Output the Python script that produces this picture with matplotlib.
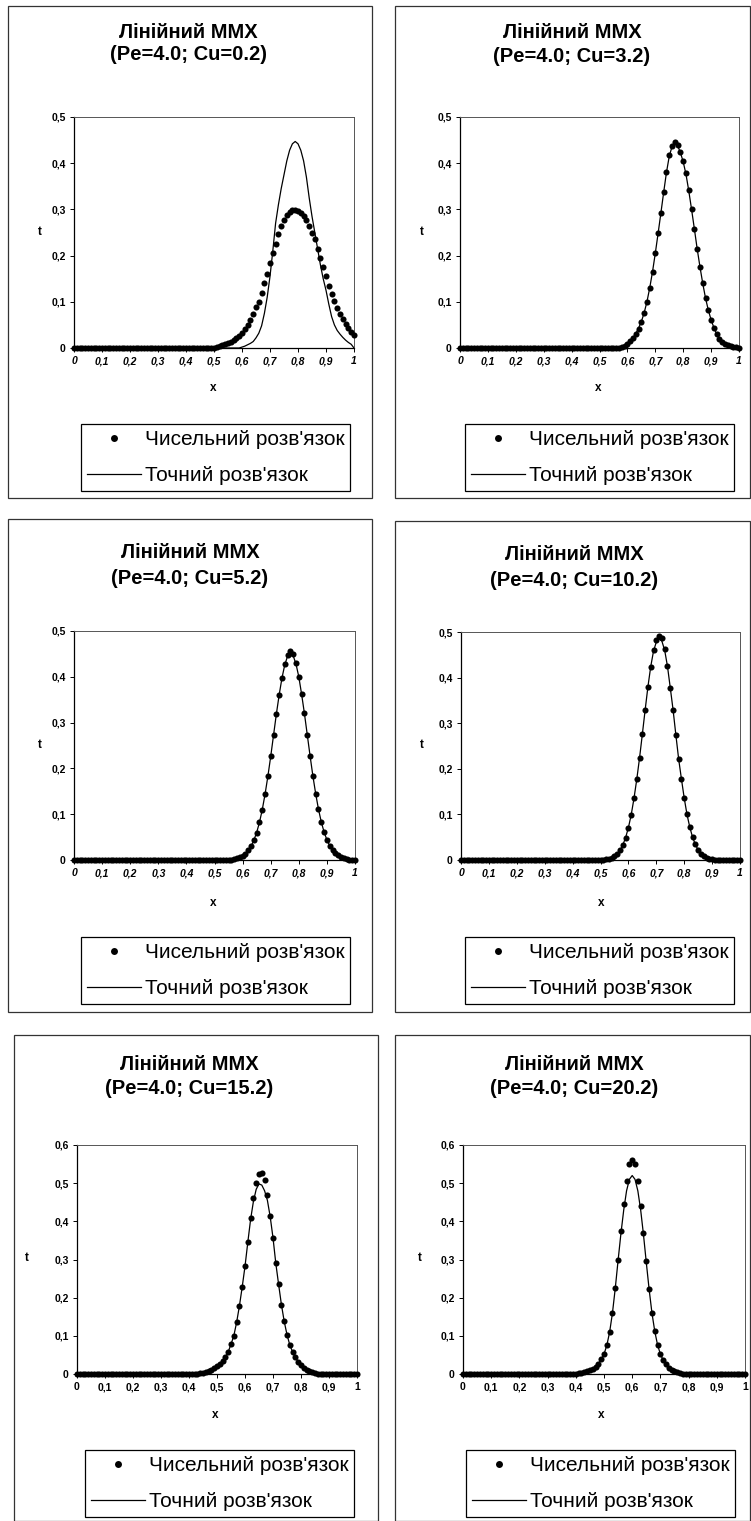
import numpy as np
import matplotlib
matplotlib.use("Agg")
import matplotlib.pyplot as plt
from matplotlib.patches import Rectangle
from matplotlib.lines import Line2D

plt.rcParams['font.family'] = ['Liberation Sans', 'DejaVu Sans']

# ---------------- data ----------------
N = 101
x_grid = np.round(np.linspace(0.0, 1.0, N), 2)

def padded(start, vals):
    arr = np.zeros(N)
    arr[start:start + len(vals)] = vals
    return arr

titles = ["Лінійний ММХ\n(Pe=4.0; Cu=0.2)", "Лінійний ММХ\n(Pe=4.0; Cu=3.2)",
          "Лінійний ММХ\n(Pe=4.0; Cu=5.2)", "Лінійний ММХ\n(Pe=4.0; Cu=10.2)",
          "Лінійний ММХ\n(Pe=4.0; Cu=15.2)", "Лінійний ММХ\n(Pe=4.0; Cu=20.2)"]
legend_labels = ["Чисельний розв'язок", "Точний розв'язок"]
x_ticks = [0, 0.1, 0.2, 0.3, 0.4, 0.5, 0.6, 0.7, 0.8, 0.9, 1]
x_tick_labels = ["0", "0,1", "0,2", "0,3", "0,4", "0,5", "0,6", "0,7", "0,8", "0,9", "1"]
y_ticks_05 = [0, 0.1, 0.2, 0.3, 0.4, 0.5]
y_tick_labels_05 = ["0", "0,1", "0,2", "0,3", "0,4", "0,5"]
y_ticks_06 = [0, 0.1, 0.2, 0.3, 0.4, 0.5, 0.6]
y_tick_labels_06 = ["0", "0,1", "0,2", "0,3", "0,4", "0,5", "0,6"]

# Cu = 0.2
num_cu02 = padded(50, [0.000, 0.002, 0.004, 0.006, 0.008, 0.011, 0.014, 0.017, 0.021, 0.027,
                       0.033, 0.041, 0.050, 0.060, 0.074, 0.088, 0.100, 0.118, 0.140, 0.160,
                       0.184, 0.205, 0.225, 0.247, 0.265, 0.278, 0.288, 0.294, 0.298, 0.299,
                       0.297, 0.293, 0.286, 0.276, 0.263, 0.250, 0.235, 0.215, 0.195, 0.175,
                       0.155, 0.135, 0.117, 0.101, 0.087, 0.074, 0.062, 0.052, 0.043, 0.035,
                       0.028])
ex_cu02 = padded(59, [0.000,
                      0.002, 0.004, 0.007, 0.010, 0.014, 0.022, 0.032, 0.048, 0.075, 0.110,
                      0.155, 0.210, 0.270, 0.310, 0.345, 0.375, 0.405, 0.428, 0.442, 0.447,
                      0.442, 0.428, 0.405, 0.370, 0.325, 0.285, 0.250, 0.215, 0.180, 0.150,
                      0.125, 0.095, 0.068, 0.050, 0.038, 0.030, 0.023, 0.017, 0.012, 0.008,
                      0.000])
# Cu = 3.2
num_cu32 = padded(57, [0.001, 0.002, 0.005,
                       0.009, 0.015, 0.022, 0.031, 0.042, 0.056, 0.075, 0.100, 0.130, 0.165,
                       0.205, 0.248, 0.292, 0.338, 0.382, 0.418, 0.438, 0.446, 0.440, 0.425,
                       0.405, 0.378, 0.342, 0.300, 0.258, 0.215, 0.176, 0.140, 0.108, 0.082,
                       0.061, 0.044, 0.030, 0.020, 0.013, 0.009, 0.006, 0.004, 0.003, 0.002,
                       0.001])
ex_cu32 = padded(57, [0.001, 0.002, 0.005,
                      0.009, 0.015, 0.022, 0.031, 0.043, 0.057, 0.076, 0.100, 0.130, 0.165,
                      0.205, 0.248, 0.292, 0.337, 0.380, 0.415, 0.436, 0.443, 0.438, 0.423,
                      0.403, 0.376, 0.340, 0.300, 0.258, 0.215, 0.176, 0.140, 0.108, 0.082,
                      0.061, 0.044, 0.030, 0.020, 0.013, 0.009, 0.006, 0.004, 0.003, 0.002,
                      0.001])
# Cu = 5.2
num_cu52 = padded(55, [0.000, 0.001, 0.002, 0.004, 0.006,
                       0.009, 0.014, 0.021, 0.030, 0.043, 0.060, 0.082, 0.110, 0.144, 0.183,
                       0.226, 0.272, 0.318, 0.360, 0.398, 0.428, 0.448, 0.456, 0.450, 0.430,
                       0.400, 0.362, 0.320, 0.274, 0.228, 0.184, 0.145, 0.111, 0.083, 0.061,
                       0.044, 0.031, 0.022, 0.015, 0.010, 0.006, 0.004, 0.002, 0.001, 0.000,
                       0.000])
ex_cu52 = padded(55, [0.000, 0.001, 0.002, 0.004, 0.006,
                      0.009, 0.014, 0.021, 0.030, 0.043, 0.060, 0.082, 0.110, 0.144, 0.183,
                      0.226, 0.272, 0.318, 0.360, 0.397, 0.426, 0.445, 0.451, 0.446, 0.428,
                      0.400, 0.362, 0.320, 0.274, 0.228, 0.184, 0.145, 0.111, 0.083, 0.061,
                      0.044, 0.031, 0.022, 0.015, 0.010, 0.006, 0.004, 0.002, 0.001, 0.000,
                      0.000])
# Cu = 10.2
num_cu102 = padded(50, [0.000, 0.001, 0.002, 0.003, 0.005, 0.008, 0.013, 0.021, 0.033, 0.049,
                        0.071, 0.099, 0.135, 0.177, 0.224, 0.276, 0.329, 0.380, 0.424, 0.460,
                        0.482, 0.492, 0.486, 0.462, 0.426, 0.378, 0.330, 0.275, 0.222, 0.178,
                        0.136, 0.100, 0.072, 0.050, 0.034, 0.022, 0.014, 0.009, 0.005, 0.003,
                        0.002, 0.001, 0.000])
ex_cu102 = padded(50, [0.000, 0.001, 0.002, 0.003, 0.005, 0.008, 0.013, 0.021, 0.033, 0.049,
                       0.071, 0.099, 0.135, 0.177, 0.224, 0.276, 0.329, 0.380, 0.424, 0.458,
                       0.478, 0.485, 0.480, 0.460, 0.425, 0.378, 0.330, 0.275, 0.222, 0.178,
                       0.136, 0.100, 0.072, 0.050, 0.034, 0.022, 0.014, 0.009, 0.005, 0.003,
                       0.002, 0.001, 0.000])
# Cu = 15.2
num_cu152 = padded(43, [0.001, 0.002, 0.003, 0.005, 0.008, 0.011, 0.015,
                        0.020, 0.027, 0.034, 0.044, 0.058, 0.078, 0.100, 0.135, 0.178, 0.228,
                        0.282, 0.345, 0.408, 0.460, 0.500, 0.525, 0.527, 0.508, 0.470, 0.415,
                        0.357, 0.290, 0.235, 0.182, 0.138, 0.103, 0.076, 0.058, 0.044, 0.032,
                        0.023, 0.016, 0.011, 0.007, 0.004, 0.002, 0.001, 0.000, 0.000])
ex_cu152 = padded(43, [0.001, 0.002, 0.003, 0.005, 0.008, 0.011, 0.015,
                       0.020, 0.027, 0.034, 0.044, 0.058, 0.078, 0.100, 0.135, 0.178, 0.228,
                       0.282, 0.345, 0.405, 0.452, 0.484, 0.498, 0.495, 0.480, 0.455, 0.412,
                       0.357, 0.290, 0.235, 0.182, 0.138, 0.103, 0.076, 0.058, 0.044, 0.032,
                       0.023, 0.016, 0.011, 0.007, 0.004, 0.002, 0.001, 0.000, 0.000])
# Cu = 20.2
num_cu202 = padded(40, [0.001, 0.002, 0.003, 0.005, 0.007, 0.010, 0.014, 0.019, 0.027, 0.038,
                        0.052, 0.075, 0.110, 0.160, 0.225, 0.300, 0.375, 0.445, 0.505, 0.550,
                        0.560, 0.550, 0.505, 0.440, 0.370, 0.295, 0.222, 0.160, 0.112, 0.076,
                        0.052, 0.036, 0.025, 0.017, 0.011, 0.007, 0.004, 0.002, 0.001, 0.000])
ex_cu202 = padded(40, [0.001, 0.002, 0.003, 0.005, 0.007, 0.010, 0.014, 0.019, 0.027, 0.038,
                       0.052, 0.075, 0.110, 0.160, 0.225, 0.298, 0.368, 0.430, 0.480, 0.510,
                       0.520, 0.510, 0.480, 0.430, 0.365, 0.292, 0.222, 0.160, 0.112, 0.076,
                       0.052, 0.036, 0.025, 0.017, 0.011, 0.007, 0.004, 0.002, 0.001, 0.000])

numeric = [num_cu02, num_cu32, num_cu52, num_cu102, num_cu152, num_cu202]
exact = [ex_cu02, ex_cu32, ex_cu52, ex_cu102, ex_cu152, ex_cu202]

# ---------------- layout (pixels) ----------------
W, H = 751, 1521
fig = plt.figure(figsize=(W / 100, H / 100), dpi=100)

panels = [
    dict(box=(8, 6, 372, 498), ax=(74, 117, 354, 348), tx=188, ty=(32, 55), tl=(40, 232), xl=(213, 388), leg=(81, 424, 348, 493), ymax=0.5, italic=True),
    dict(box=(395, 6, 750, 498), ax=(460, 117, 739, 348), tx=572, ty=(32, 57), tl=(422, 232), xl=(598, 388), leg=(465, 424, 735, 493), ymax=0.5, italic=True),
    dict(box=(8, 519, 372, 1012), ax=(74, 631, 355, 860), tx=190, ty=(553, 578), tl=(40, 745), xl=(213, 903), leg=(81, 937, 348, 1006), ymax=0.5, italic=True),
    dict(box=(395, 521, 750, 1012), ax=(461, 632, 740, 860), tx=574, ty=(555, 580), tl=(422, 745), xl=(601, 903), leg=(465, 937, 735, 1006), ymax=0.5, italic=True),
    dict(box=(14, 1035, 378, 1521), ax=(77, 1145, 357, 1374), tx=189, ty=(1065, 1088), tl=(27, 1258), xl=(215, 1415), leg=(85, 1450, 357, 1512), ymax=0.6, italic=False),
    dict(box=(395, 1035, 750, 1521), ax=(463, 1145, 745, 1374), tx=574, ty=(1065, 1088), tl=(420, 1258), xl=(601, 1415), leg=(466, 1450, 735, 1512), ymax=0.6, italic=False),
]

def fx(px):
    return px / W

def fy(py):
    return 1 - py / H

for i, p in enumerate(panels):
    bx0, by0, bx1, by1 = p["box"]
    fig.add_artist(Rectangle((fx(bx0), fy(by1)), (bx1 - bx0) / W, (by1 - by0) / H,
                             transform=fig.transFigure, fill=False, lw=0.9, ec="#333333"))
    l1, l2 = titles[i].split("\n")
    fig.text(fx(p["tx"]), fy(p["ty"][0]), l1, ha="center", va="center", fontsize=14.5, weight="bold")
    fig.text(fx(p["tx"]), fy(p["ty"][1]), l2, ha="center", va="center", fontsize=14.5, weight="bold")

    ax0, ay0, ax1, ay1 = p["ax"]
    ax = fig.add_axes([fx(ax0), fy(ay1), (ax1 - ax0) / W, (ay1 - ay0) / H])
    ax.plot(x_grid, exact[i], color="black", lw=0.9, zorder=2)
    ax.plot(x_grid, numeric[i], "o", color="black", ms=4.4, mew=0, zorder=3, clip_on=False)
    ax.set_xlim(0, 1)
    ax.set_ylim(0, p["ymax"])
    ax.set_xticks(x_ticks)
    ax.set_xticklabels(x_tick_labels, fontsize=7.5, weight="bold", style="italic" if p["italic"] else "normal")
    if p["ymax"] == 0.5:
        ax.set_yticks(y_ticks_05)
        ax.set_yticklabels(y_tick_labels_05, fontsize=7.5, weight="bold")
    else:
        ax.set_yticks(y_ticks_06)
        ax.set_yticklabels(y_tick_labels_06, fontsize=7.5, weight="bold")
    ax.tick_params(direction="out", length=3, width=0.7, pad=3)
    for s in ["left", "bottom"]:
        ax.spines[s].set_linewidth(0.9)
        ax.spines[s].set_color("black")
    for s in ["top", "right"]:
        ax.spines[s].set_linewidth(0.7)
        ax.spines[s].set_color("#555555")
    fig.text(fx(p["tl"][0]), fy(p["tl"][1]), "t", ha="center", va="center", fontsize=8.5, weight="bold")
    fig.text(fx(p["xl"][0]), fy(p["xl"][1]), "x", ha="center", va="center", fontsize=8.5, weight="bold")

    # legend
    lx0, ly0, lx1, ly1 = p["leg"]
    h_num = Line2D([], [], marker="o", ls="none", color="black", ms=5.0, mew=0)
    h_ex = Line2D([], [], color="black", lw=0.9)
    leg = ax.legend([h_num, h_ex], legend_labels, loc="upper left",
                    bbox_to_anchor=(fx(lx0), fy(ly0)), bbox_transform=fig.transFigure,
                    fontsize=15, frameon=True, fancybox=False, edgecolor="black",
                    framealpha=1, borderpad=0.3, handlelength=2.6, handletextpad=0.15,
                    labelspacing=0.8, borderaxespad=0)
    leg.get_frame().set_linewidth(0.9)

fig.savefig("out.png", dpi=100)
